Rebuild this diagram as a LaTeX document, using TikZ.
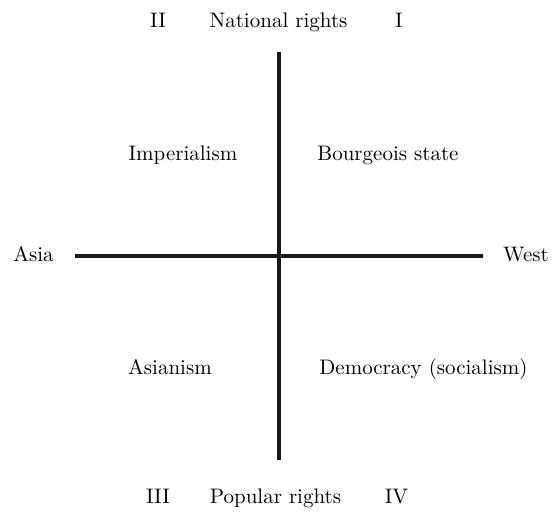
\documentclass[tikz,border=0pt]{standalone}
\usepackage{tikz}
\usetikzlibrary{positioning}

\begin{document}
\begin{tikzpicture}[
      x=0.5pt, y=-0.5pt,
      font=\fontsize{10.5}{12.5}\selectfont,
      lbl/.style={inner sep=0pt, anchor=base},
      axis/.style={line width=2pt, color=black!90}
    ]
      \useasboundingbox (0,0) rectangle (553,514);
      % axes
      \coordinate (top) at (279,52);
      \coordinate (bot) at (279,460);
      \coordinate (left) at (75,256);
      \coordinate (right) at (483,256);
      \draw[axis] (top) -- (bot);
      \draw[axis] (left) -- (right);
      % top row
      \node[lbl] (qII) at (158,27) {II};
      \node[lbl] (natl) at (278.5,27) {National rights};
      \node[lbl] (qI) at (399,27) {I};
      % side labels
      \node[lbl] (asia) at (33.5,262) {Asia};
      \node[lbl] (west) at (526,262) {West};
      % quadrants
      \node[lbl] (imp) at (183,161) {Imperialism};
      \node[lbl] (bourg) at (388,161) {Bourgeois state};
      \node[lbl] (asian) at (170,374) {Asianism};
      \node[lbl] (demo) at (423.5,374) {Democracy (socialism)};
      % bottom row
      \node[lbl] (qIII) at (158,503) {III};
      \node[lbl] (pop) at (275.5,503) {Popular rights};
      \node[lbl] (qIV) at (396.5,503) {IV};
\end{tikzpicture}
\end{document}
